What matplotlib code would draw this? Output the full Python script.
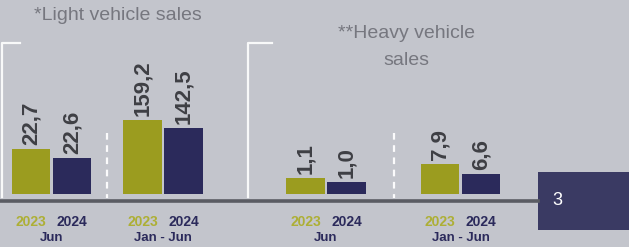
import matplotlib.pyplot as plt
from matplotlib.lines import Line2D
from matplotlib.patches import Rectangle

# data
groups = ["Jun", "Jan - Jun", "Jun", "Jan - Jun"]
years = ["2023", "2024"]
sales_2023 = [22.7, 159.2, 1.1, 7.9]
sales_2024 = [22.6, 142.5, 1.0, 6.6]
panel_titles = ["*Light vehicle sales", "**Heavy vehicle\nsales"]
page_number = "3"

# colours
bg = "#c3c5cc"
olive = "#9b9c1f"
navy = "#2b2a5b"
label_grey = "#3e3f44"
title_grey = "#76777f"

W, H = 629, 247
plt.rcParams['font.family'] = ['Liberation Sans', 'DejaVu Sans']

fig = plt.figure(figsize=(W / 100, H / 100), dpi=100, facecolor=bg)


def fx(px):
    return px / W


def fy(py):
    return 1 - py / H


# each pair of bars has its own small axis (the slide is not drawn to one scale)
centers = [51.5, 163, 326, 460.5]
ylims = [(22.2, 23.91), (4.7, 326), (0.7, 4.55), (4.0, 24.0)]
bar_bottom, bar_top = 194, 40
pair_w = 82

for i in range(len(groups)):
    left = centers[i] - pair_w / 2
    ax = fig.add_axes([fx(left), fy(bar_bottom), pair_w / W, (bar_bottom - bar_top) / H])
    ax.patch.set_alpha(0)
    vals = [sales_2023[i], sales_2024[i]]
    ax.bar([0, 1], vals, width=0.93, color=[olive, navy])
    ax.set_xlim(-0.5, 1.5)
    ax.set_ylim(*ylims[i])
    ax.axis('off')

    # value labels, rotated like on the slide
    for x, v in zip([0, 1], vals):
        ax.annotate(f"{v:.1f}".replace('.', ','), xy=(x, v), xytext=(0, 3),
                    textcoords='offset points', rotation=90, ha='center', va='bottom',
                    fontsize=16, fontweight='bold', color=label_grey)

    # year legend + period under the baseline
    tr = ax.get_xaxis_transform()
    ax.text(0, -0.18, years[0], transform=tr, ha='center', va='center',
            fontsize=10, fontweight='bold', color="#adaf35")
    ax.text(1, -0.18, years[1], transform=tr, ha='center', va='center',
            fontsize=10, fontweight='bold', color=navy)
    ax.text(0.5, -0.285, groups[i], transform=tr, ha='center', va='center',
            fontsize=9.5, fontweight='bold', color=navy)

# panel titles
fig.text(fx(118), fy(15), panel_titles[0], ha='center', va='center',
         fontsize=14, color=title_grey)
fig.text(fx(406), fy(47), panel_titles[1], ha='center', va='center',
         fontsize=14, color=title_grey, linespacing=1.8)

# white frame corners
for xs, ys in [([1.5, 1.5, 20], [197, 43, 43]), ([248, 248, 272], [197, 43, 43])]:
    fig.add_artist(Line2D([fx(x) for x in xs], [fy(y) for y in ys],
                          color='white', lw=1.6, alpha=0.9))

# dashed separators
for x in [107, 394]:
    fig.add_artist(Line2D([fx(x), fx(x)], [fy(133), fy(198)], color='white',
                          lw=1.6, ls=(0, (3, 2.5)), alpha=0.95))

# baseline
fig.add_artist(Line2D([0, fx(538)], [fy(200.5), fy(200.5)], color="#5a5c63", lw=2.6))

# page number box
fig.add_artist(Rectangle((fx(538), fy(230)), fx(629) - fx(538), fy(172) - fy(230),
                         transform=fig.transFigure, color="#3a3a63", lw=0))
fig.text(fx(557), fy(200), page_number, ha='center', va='center',
         fontsize=13, color='white')

fig.savefig("out.png", dpi=100, facecolor=bg)
